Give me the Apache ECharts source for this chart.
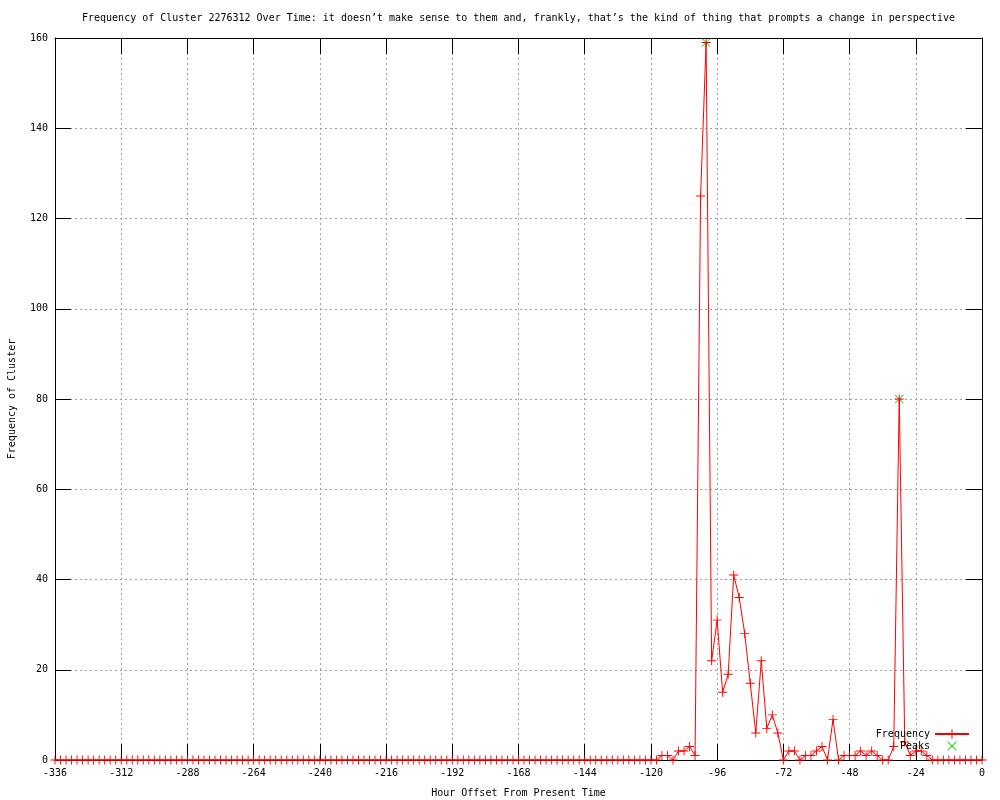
<!DOCTYPE html>
<html>
<head>
<meta charset="utf-8">
<script src="https://cdn.jsdelivr.net/npm/echarts@6/dist/echarts.min.js"></script>
<style>html,body{margin:0;padding:0;background:#fff}#c{width:1000px;height:800px}</style>
</head>
<body>
<div id="c"></div>
<script>
const titleText = "Frequency of Cluster 2276312 Over Time: it doesn’t make sense to them and, frankly, that’s the kind of thing that prompts a change in perspective";
const hours = [-336,-334,-332,-330,-328,-326,-324,-322,-320,-318,-316,-314,-312,-310,-308,-306,-304,-302,-300,-298,-296,-294,-292,-290,-288,-286,-284,-282,-280,-278,-276,-274,-272,-270,-268,-266,-264,-262,-260,-258,-256,-254,-252,-250,-248,-246,-244,-242,-240,-238,-236,-234,-232,-230,-228,-226,-224,-222,-220,-218,-216,-214,-212,-210,-208,-206,-204,-202,-200,-198,-196,-194,-192,-190,-188,-186,-184,-182,-180,-178,-176,-174,-172,-170,-168,-166,-164,-162,-160,-158,-156,-154,-152,-150,-148,-146,-144,-142,-140,-138,-136,-134,-132,-130,-128,-126,-124,-122,-120,-118,-116,-114,-112,-110,-108,-106,-104,-102,-100,-98,-96,-94,-92,-90,-88,-86,-84,-82,-80,-78,-76,-74,-72,-70,-68,-66,-64,-62,-60,-58,-56,-54,-52,-50,-48,-46,-44,-42,-40,-38,-36,-34,-32,-30,-28,-26,-24,-22,-20,-18,-16,-14,-12,-10,-8,-6,-4,-2,0];
const frequency = [0,0,0,0,0,0,0,0,0,0,0,0,0,0,0,0,0,0,0,0,0,0,0,0,0,0,0,0,0,0,0,0,0,0,0,0,0,0,0,0,0,0,0,0,0,0,0,0,0,0,0,0,0,0,0,0,0,0,0,0,0,0,0,0,0,0,0,0,0,0,0,0,0,0,0,0,0,0,0,0,0,0,0,0,0,0,0,0,0,0,0,0,0,0,0,0,0,0,0,0,0,0,0,0,0,0,0,
  0,0,0,1,1,0,2,2,3,1,125,159,22,31,15,19,41,36,28,17,6,22,7,10,6,0,2,2,0,1,1,2,3,0,9,0,1,1,1,2,1,2,1,0,0,3,80,4,1,2,2,1,0,0,0,0,0,0,0,0,0,0];
const peakHours = [-100, -30];
const peakValues = [159, 80];
const xTicks = {min: -336, max: 0, step: 24};
const yTicks = {min: 0, max: 160, step: 20};

const FONT = 'DejaVu Sans Mono';
const plusPath = 'path://M0,4.5L10,4.5L10,5.5L0,5.5ZM4.5,0L5.5,0L5.5,10L4.5,10Z';
const crossPath = 'path://M0.7,0L5,4.3L9.3,0L10,0.7L5.7,5L10,9.3L9.3,10L5,5.7L0.7,10L0,9.3L4.3,5L0,0.7Z';
const crossLegend = 'path://M1.6,1L5,4.3L8.4,1L9,1.6L5.7,5L9,8.4L8.4,9L5,5.7L1.6,9L1,8.4L4.3,5L1,1.6ZM0,0L0,0.01L0.01,0ZM10,10L10,9.99L9.99,10Z';

const chart = echarts.init(document.getElementById('c'), null, {renderer: 'canvas'});
const tickCommon = {show: true, inside: true, length: 16, lineStyle: {color: '#000', width: 1}};
const axisLineCommon = {show: true, onZero: false, lineStyle: {color: '#000', width: 1}};
const gridLine = {show: true, lineStyle: {color: '#a0a0a0', type: [2, 3], width: 1}};

chart.setOption({
  animation: false,
  backgroundColor: '#fff',
  textStyle: {fontFamily: FONT},
  title: {
    text: titleText, left: 77, top: 8,
    textStyle: {fontFamily: FONT, fontSize: 10, fontWeight: 'normal', color: '#000'}
  },
  grid: {left: 55, right: 18, top: 38, bottom: 40, containLabel: false, outerBoundsMode: 'none'},
  legend: {
    orient: 'vertical', right: 25, top: 724, align: 'right',
    itemWidth: 34, itemHeight: 12, itemGap: 1,
    textStyle: {fontFamily: FONT, fontSize: 10, color: '#000'},
    data: ['Frequency', {name: 'Peaks', icon: crossLegend}]
  },
  xAxis: [{
    type: 'value', min: xTicks.min, max: xTicks.max, interval: xTicks.step,
    name: 'Hour Offset From Present Time', nameLocation: 'middle', nameGap: 28,
    nameTextStyle: {fontFamily: FONT, fontSize: 10, color: '#000'},
    axisLine: axisLineCommon, axisTick: tickCommon,
    axisLabel: {fontFamily: FONT, fontSize: 10, color: '#000', margin: 8},
    splitLine: gridLine
  }, {
    type: 'value', position: 'top', min: xTicks.min, max: xTicks.max, interval: xTicks.step,
    axisLine: axisLineCommon, axisTick: tickCommon, axisLabel: {show: false}, splitLine: {show: false}
  }],
  yAxis: [{
    type: 'value', min: yTicks.min, max: yTicks.max, interval: yTicks.step,
    name: 'Frequency of Cluster', nameLocation: 'middle', nameGap: 38, nameRotate: 90,
    nameTextStyle: {fontFamily: FONT, fontSize: 10, color: '#000'},
    axisLine: axisLineCommon, axisTick: tickCommon,
    axisLabel: {fontFamily: FONT, fontSize: 10, color: '#000', margin: 7},
    splitLine: gridLine
  }, {
    type: 'value', position: 'right', min: yTicks.min, max: yTicks.max, interval: yTicks.step,
    axisLine: axisLineCommon, axisTick: tickCommon, axisLabel: {show: false}, splitLine: {show: false}
  }],
  series: [{
    name: 'Frequency', type: 'line', xAxisIndex: 0, yAxisIndex: 0,
    data: hours.map((h, i) => [h, frequency[i]]),
    symbol: plusPath, symbolSize: 9, showSymbol: true, showAllSymbol: true,
    lineStyle: {color: '#ff0000', width: 1},
    itemStyle: {color: '#ff0000'},
    emphasis: {disabled: true}
  }, {
    name: 'Peaks', type: 'scatter', xAxisIndex: 0, yAxisIndex: 0,
    data: peakHours.map((h, i) => [h, peakValues[i]]),
    symbol: crossPath, symbolSize: 9,
    itemStyle: {color: '#00c000'},
    emphasis: {disabled: true}
  }]
});
</script>
</body>
</html>
